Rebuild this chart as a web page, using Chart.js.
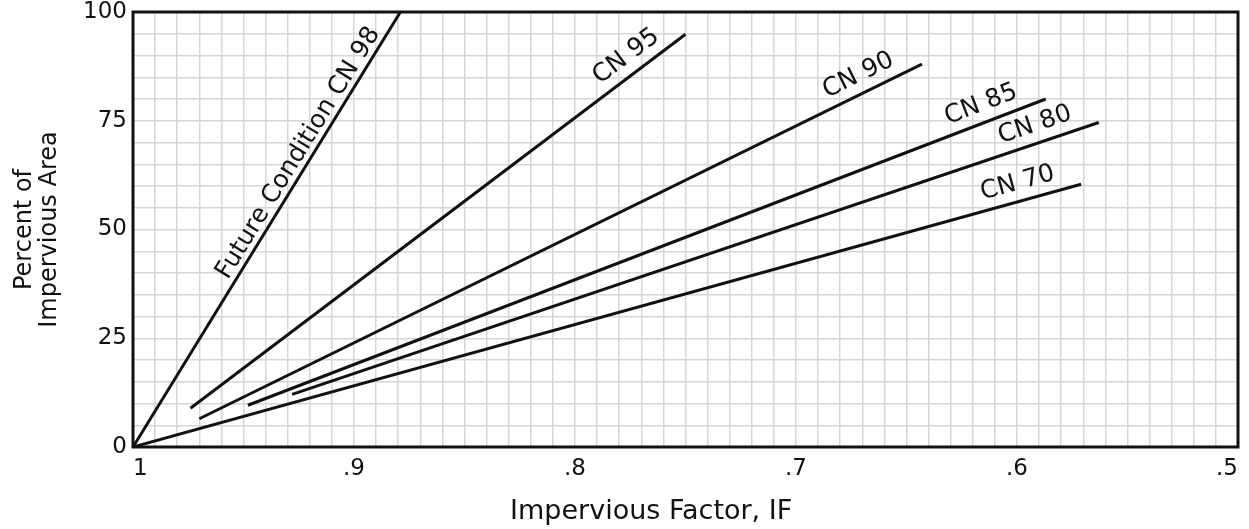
<!DOCTYPE html>
<html>
<head>
<meta charset="utf-8">
<title>Impervious Factor chart</title>
<script src="https://cdn.jsdelivr.net/npm/chart.js@4"></script>
<style>
  html, body { margin: 0; padding: 0; background: #fff; }
  #wrap { width: 1249px; height: 529px; position: relative; }
</style>
</head>
<body>
<div id="wrap"><canvas id="chart"></canvas></div>
<script>
// curve names and end points
const curveNames = ['Future Condition CN 98', 'CN 95', 'CN 90', 'CN 85', 'CN 80', 'CN 70'];
const startIF  = [1.000, 0.974, 0.970, 0.948, 0.928, 1.000];
const startPct = [0.0,   8.9,   6.5,   9.6,   12.1,  0.0];
const endIF    = [0.879, 0.750, 0.643, 0.587, 0.563, 0.571];
const endPct   = [100.0, 94.9,  88.0,  80.0,  74.6,  60.4];

// axis labels
const xTickValues = [1, 0.9, 0.8, 0.7, 0.6, 0.5];
const xTickLabels = ['1', '.9', '.8', '.7', '.6', '.5'];
const yTickValues = [0, 25, 50, 75, 100];
const yTickLabels = ['0', '25', '50', '75', '100'];

// where each curve label sits: fraction along the line, gap above it (px)
const labelAt  = [0.66, 0.902, 0.923, 0.927, 0.928, 0.938];
const labelGap = [13, 18, 18, 18, 18, 18];

const INK = '#111';
const GRID = '#d6d6d6';

// grid every .01 on x, every 5 on y
function xGrid() {
    const out = [];
    for (let i = 50; i <= 100; i++) out.push({ value: i / 100 });
    return out;
}
function yGrid() {
    const out = [];
    for (let v = 0; v <= 100; v += 5) out.push({ value: v });
    return out;
}

const datasets = curveNames.map((name, i) => ({
    label: name,
    data: [{ x: startIF[i], y: startPct[i] }, { x: endIF[i], y: endPct[i] }],
    showLine: true,
    borderColor: INK,
    borderWidth: 3,
    pointRadius: 0,
    fill: false
}));

// draws the curve names rotated along each line
const curveLabels = {
    id: 'curveLabels',
    afterDatasetsDraw(chart) {
        const ctx = chart.ctx;
        ctx.save();
        ctx.fillStyle = INK;
        ctx.font = '25px "DejaVu Sans"';
        ctx.textAlign = 'center';
        ctx.textBaseline = 'middle';
        chart.data.datasets.forEach((ds, i) => {
            const pts = chart.getDatasetMeta(i).data;
            const a = pts[0], b = pts[1];
            const dx = b.x - a.x, dy = b.y - a.y;
            const len = Math.sqrt(dx * dx + dy * dy);
            const nx = dy / len, ny = -dx / len;
            const t = labelAt[i];
            const cx = a.x + dx * t + nx * labelGap[i];
            const cy = a.y + dy * t + ny * labelGap[i];
            ctx.save();
            ctx.translate(cx, cy);
            ctx.rotate(Math.atan2(dy, dx));
            ctx.fillText(ds.label, 0, 0);
            ctx.restore();
        });
        ctx.restore();
    }
};

// heavy frame round the plot
const frame = {
    id: 'frame',
    afterDatasetsDraw(chart) {
        const { left, top, right, bottom } = chart.chartArea;
        const ctx = chart.ctx;
        ctx.save();
        ctx.strokeStyle = INK;
        ctx.lineWidth = 3;
        ctx.strokeRect(left, top, right - left, bottom - top);
        ctx.restore();
    }
};

new Chart(document.getElementById('chart'), {
    type: 'scatter',
    data: { datasets: datasets },
    plugins: [curveLabels, frame],
    options: {
        responsive: true,
        maintainAspectRatio: false,
        animation: false,
        layout: { padding: { top: 12, right: 11, left: 0, bottom: 0 } },
        plugins: {
            legend: { display: false },
            tooltip: { enabled: false }
        },
        scales: {
            x: {
                type: 'linear',
                min: 0.5,
                max: 1,
                reverse: true,
                afterBuildTicks: (axis) => { axis.ticks = xGrid(); },
                afterFit: (axis) => {
                    axis.height = 82;
                    axis.paddingLeft = 0;
                    axis.paddingRight = 0;
                },
                border: { display: false },
                grid: { color: GRID, lineWidth: 1.5, drawTicks: false },
                ticks: {
                    autoSkip: false,
                    maxRotation: 0,
                    align: 'inner',
                    padding: 8,
                    color: INK,
                    font: { family: 'DejaVu Sans', size: 23 },
                    callback: function(value) {
                        const k = xTickValues.findIndex(v => Math.abs(v - value) < 1e-6);
                        return k >= 0 ? xTickLabels[k] : '';
                    }
                },
                title: {
                    display: true,
                    text: 'Impervious Factor, IF\u00a0\u00a0\u00a0\u00a0\u00a0\u00a0\u00a0\u00a0',
                    color: INK,
                    font: { family: 'DejaVu Sans', size: 27 },
                    padding: { top: 4, bottom: 1 }
                }
            },
            y: {
                type: 'linear',
                min: 0,
                max: 100,
                afterBuildTicks: (axis) => { axis.ticks = yGrid(); },
                afterFit: (axis) => {
                    axis.width = 133;
                    axis.paddingTop = 0;
                    axis.paddingBottom = 0;
                },
                border: { display: false },
                grid: { color: GRID, lineWidth: 1.5, drawTicks: false },
                ticks: {
                    autoSkip: false,
                    padding: 6,
                    color: INK,
                    font: { family: 'DejaVu Sans', size: 23 },
                    callback: function(value) {
                        const k = yTickValues.indexOf(value);
                        return k >= 0 ? yTickLabels[k] : '';
                    }
                },
                title: {
                    display: true,
                    text: ['Percent of', 'Impervious Area'],
                    color: INK,
                    font: { family: 'DejaVu Sans', size: 24, lineHeight: 1.05 },
                    padding: { top: 12, bottom: 12 }
                }
            }
        }
    }
});
</script>
</body>
</html>
